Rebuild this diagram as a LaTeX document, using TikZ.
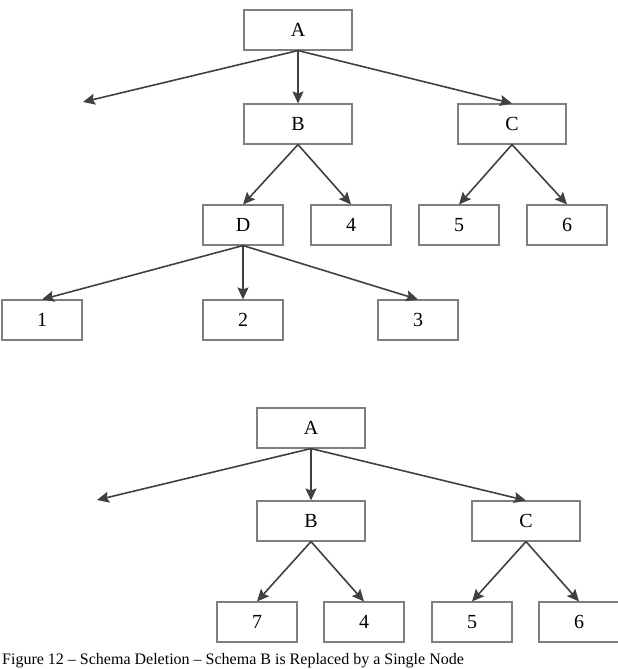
\documentclass[tikz,border=0pt]{standalone}
\usepackage{fontspec}
\setmainfont{Liberation Serif}
\usetikzlibrary{arrows.meta}
\definecolor{boxgray}{HTML}{7F7F7F}
\definecolor{arrgray}{HTML}{404040}
\tikzset{
  box/.style={draw=boxgray, line width=1.1pt, minimum width=#1, minimum height=40pt, inner sep=0pt, font=\fontsize{20}{22}\selectfont},
  box/.default=80pt,
  conn/.style={draw=arrgray, line width=1.6pt, -{Stealth[length=12pt,width=11pt,inset=2pt]}}
}
\begin{document}
\begin{tikzpicture}[x=1pt,y=-1pt]
\useasboundingbox (0,0) rectangle (618,669);
% top tree
\node[box=108pt] (A1) at (298,30) {A};
\node[box=108pt] (B1) at (298,124) {B};
\node[box=108pt] (C1) at (512,124) {C};
\coordinate (L1) at (83,102);
\node[box] (D1) at (243,225) {D};
\node[box] (F1) at (351,225) {4};
\node[box] (G1) at (459,225) {5};
\node[box] (H1) at (567,225) {6};
\node[box] (N1) at (42,320) {1};
\node[box] (N2) at (243,320) {2};
\node[box] (N3) at (418,320) {3};
\draw[conn] (A1.south) -- (L1);
\draw[conn] (A1.south) -- (B1.north);
\draw[conn] (A1.south) -- (C1.north);
\draw[conn] (B1.south) -- (D1.north);
\draw[conn] (B1.south) -- (F1.north);
\draw[conn] (C1.south) -- (G1.north);
\draw[conn] (C1.south) -- (H1.north);
\draw[conn] (D1.south) -- (N1.north);
\draw[conn] (D1.south) -- (N2.north);
\draw[conn] (D1.south) -- (N3.north);
% bottom tree
\node[box=108pt] (A2) at (311,428) {A};
\node[box=108pt] (B2) at (311,521) {B};
\node[box=108pt] (C2) at (526,521) {C};
\coordinate (L2) at (97,500);
\node[box] (S2) at (257,622) {7};
\node[box] (F2) at (364,622) {4};
\node[box] (G2) at (472,622) {5};
\node[box] (H2) at (579,622) {6};
\draw[conn] (A2.south) -- (L2);
\draw[conn] (A2.south) -- (B2.north);
\draw[conn] (A2.south) -- (C2.north);
\draw[conn] (B2.south) -- (S2.north);
\draw[conn] (B2.south) -- (F2.north);
\draw[conn] (C2.south) -- (G2.north);
\draw[conn] (C2.south) -- (H2.north);
% caption
\node[anchor=north west, inner sep=0pt, font=\fontsize{16}{18}\selectfont] (cap) at (2,653) {Figure 12 – Schema Deletion – Schema B is Replaced by a Single Node};
\end{tikzpicture}
\end{document}
